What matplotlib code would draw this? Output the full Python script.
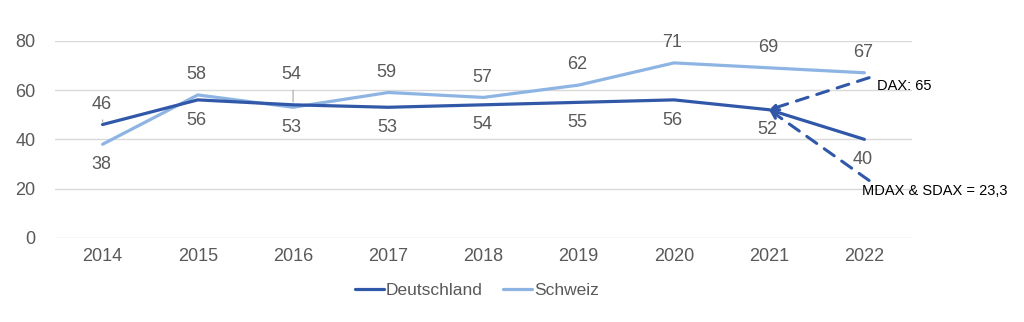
import matplotlib
matplotlib.use("Agg")
import matplotlib.pyplot as plt

years = ["2014", "2015", "2016", "2017", "2018", "2019", "2020", "2021", "2022"]
deutschland = [46, 56, 54, 53, 54, 55, 56, 52, 40]
schweiz = [38, 58, 53, 59, 57, 62, 71, 69, 67]
# label placement: +1 above the point, -1 below
de_label_side = [1, -1, 1, -1, -1, -1, -1, -1, -1]
ch_label_side = [-1, 1, -1, 1, 1, 1, 1, 1, 1]

dax_value = 65
mdax_sdax_value = 23.3
dax_text = "DAX: 65"
mdax_text = "MDAX & SDAX = 23,3"

c_de = "#3158A8"
c_ch = "#8EB4E3"
c_txt = "#595959"

plt.rcParams["font.family"] = ["Liberation Sans", "DejaVu Sans"]

fig = plt.figure(figsize=(10.24, 3.22), dpi=100)
ax = fig.add_axes([0.0537, 0.261, 0.8369, 0.6126])

x = list(range(len(years)))
ax.plot(x, deutschland, color=c_de, lw=2.3, label="Deutschland", solid_capstyle="round", zorder=3)
ax.plot(x, schweiz, color=c_ch, lw=2.3, label="Schweiz", solid_capstyle="round", zorder=2)

ax.set_xlim(-0.5, len(years) - 0.5)
ax.set_ylim(0, 80)
ax.set_yticks([0, 20, 40, 60, 80])
ax.set_xticks(x)
ax.set_xticklabels(years)
ax.tick_params(length=0, labelsize=13, labelcolor=c_txt, pad=7)
ax.tick_params(axis="y", pad=14)
ax.grid(axis="y", color="#D9D9D9", lw=1)
ax.set_axisbelow(True)
for s in ax.spines.values():
    s.set_visible(False)

def label_series(vals, sides):
    for i, (v, s) in enumerate(zip(vals, sides)):
        ax.annotate(str(v), (i, v), xytext=(-1, 14.5 * s), textcoords="offset points",
                    ha="center", va="center", fontsize=13, color=c_txt)

label_series(deutschland, de_label_side)
label_series(schweiz, ch_label_side)

# 2016 Deutschland label sits higher, with a leader line
ax.texts[2].set_position((-1, 22))
ax.annotate("", xy=(2, deutschland[2]), xytext=(2, deutschland[2] + 7),
            arrowprops=dict(arrowstyle="-", color="#A6A6A6", lw=0.8))
# small leader for 2014
ax.annotate("", xy=(0, deutschland[0]), xytext=(0, deutschland[0] + 3),
            arrowprops=dict(arrowstyle="-", color="#A6A6A6", lw=0.8))

# projected arrows from 2021 towards 2022 index values
for yv in (dax_value, mdax_sdax_value):
    ax.annotate("", xy=(7, deutschland[7]), xytext=(8.05, yv),
                arrowprops=dict(arrowstyle="->", color=c_de, lw=2.2,
                                linestyle=(0, (4, 3)), shrinkA=0, shrinkB=0,
                                mutation_scale=12),
                zorder=4)

ax.text(8.13, dax_value - 3.4, dax_text, fontsize=10.5, color="black", va="center", ha="left",
        clip_on=False)
ax.text(7.98, mdax_sdax_value - 4.1, mdax_text, fontsize=10.5, color="black", va="center", ha="left",
        clip_on=False)

leg = ax.legend(loc="upper center", bbox_to_anchor=(0.492, -0.15), ncol=2, frameon=False,
                fontsize=12.5, handlelength=1.7, handletextpad=0.1, columnspacing=1.15)
for t in leg.get_texts():
    t.set_color(c_txt)

fig.savefig("out.png", dpi=100)
